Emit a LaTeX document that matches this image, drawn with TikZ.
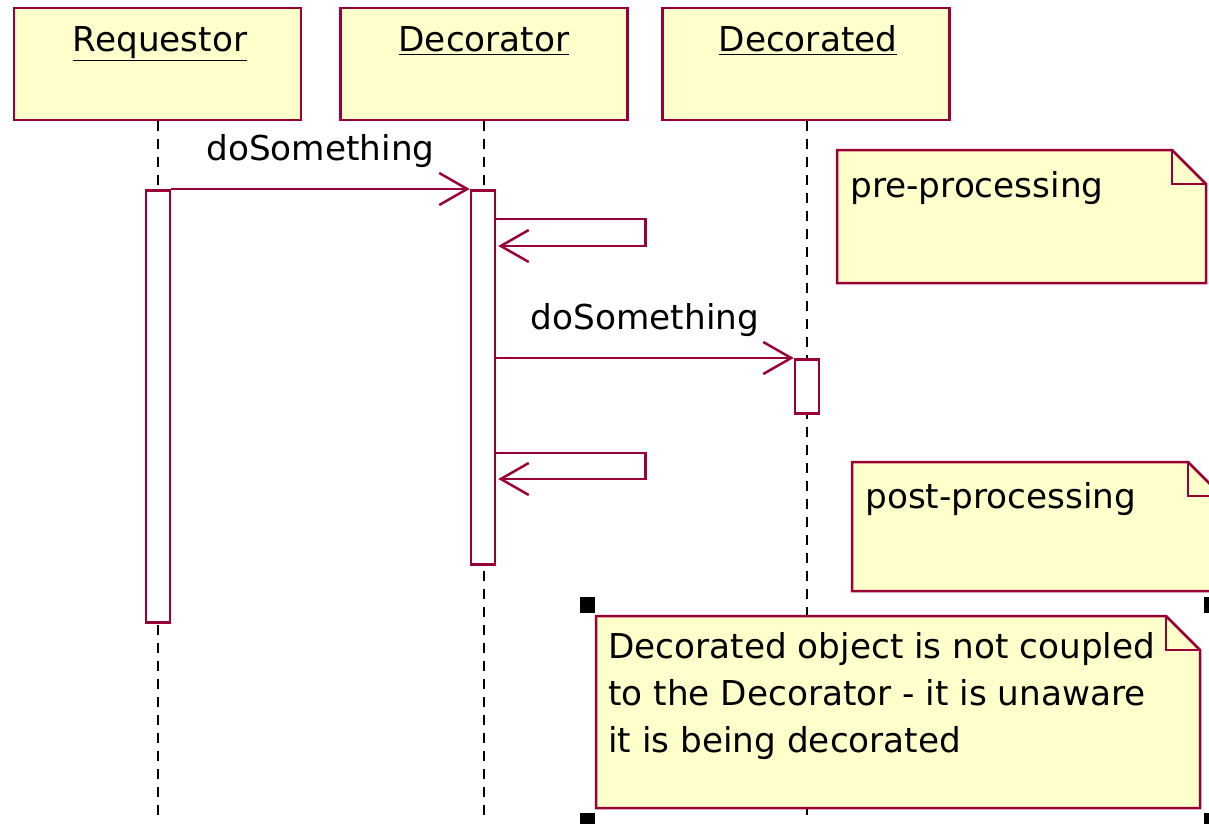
\documentclass[tikz,border=0pt]{standalone}
\usepackage{fontspec}
\setmainfont{DejaVu Sans}
\usetikzlibrary{arrows.meta,positioning}
\definecolor{umlred}{RGB}{153,0,51}
\definecolor{umlnote}{RGB}{255,255,204}
% note with folded corner: left, top, right, bottom
\newcommand{\notebox}[4]{%
  \draw[note] (#1,#2) -- ({#3-34},#2) -- (#3,{#2+34}) -- (#3,#4) -- (#1,#4) -- cycle;
  \draw[note, fill=none] ({#3-34},#2) -- ({#3-34},{#2+34}) -- (#3,{#2+34});}

\begin{document}
\begin{tikzpicture}[
  x=0.2mm, y=-0.2mm,
  every node/.style={font=\fontsize{19.5}{26.9}\selectfont, inner sep=0},
  obj/.style={draw=umlred, fill=umlnote, line width=0.5mm, minimum width=57.4mm, minimum height=22.4mm},
  life/.style={line width=0.45mm, dash pattern=on 2mm off 1.6mm},
  act/.style={draw=umlred, fill=white, line width=0.5mm, minimum width=4.8mm, anchor=north},
  msg/.style={draw=umlred, line width=0.5mm, -{Straight Barb[length=5.6mm, width=6.4mm]}},
  note/.style={draw=umlred, fill=umlnote, line width=0.5mm, line join=miter},
  handle/.style={fill=black}]
\useasboundingbox (0,0) rectangle (1209,823);
\clip (0,0) rectangle (1209,823);

% objects
\node[obj] (req) at (157.5,64) {};
\node[obj] (dec) at (484,64) {};
\node[obj] (decd) at (806,64) {};
\node[anchor=base] (reqname) at (160,51) {\underline{Requestor}};
\node[anchor=base] (decname) at (484,51) {\underline{Decorator}};
\node[anchor=base] (decdname) at (808,51) {\underline{Decorated}};

% lifelines
\coordinate (reqend) at (158,815);
\coordinate (decend) at (484,815);
\coordinate (decdend) at (807,815);
\draw[life] (req.south -| reqend) -- (reqend);
\draw[life] (dec.south -| decend) -- (decend);
\draw[life] (decd.south -| decdend) -- (decdend);

% activations
\node[act, minimum height=86.4mm] (reqact) at (158,189) {};
\node[act, minimum height=74.8mm] (decact) at (483,189) {};
\node[act, minimum height=10.8mm] (decdact) at (807,358) {};

% messages
\draw[msg] (reqact.north east) -- (decact.north west)
  node[midway, anchor=base, yshift=5.8mm] (msga) {doSomething};
\draw[msg] (decact.east |- 0,219) -- ++(149,0) -- ++(0,27) -- ++(-147,0);
\draw[msg] (decact.east |- decdact.north) -- (decdact.north west)
  node[midway, anchor=base, yshift=5.8mm] (msgb) {doSomething};
\draw[msg] (decact.east |- 0,453) -- ++(149,0) -- ++(0,26) -- ++(-147,0);

% notes
\notebox{837}{150}{1206}{283}
\node[anchor=base west] (pre) at (850,197) {pre-processing};
\notebox{852}{462}{1222}{591}
\node[anchor=base west] (post) at (865,508) {post-processing};
\notebox{596}{616}{1200}{808}
\node[anchor=north west, align=left] (remark) at (608,632)
  {Decorated object is not coupled\\to the Decorator - it is unaware\\it is being decorated};

% selection handles
\fill[handle] (580,597) rectangle (595,613);
\fill[handle] (580,813) rectangle (595,828);
\fill[handle] (1204,597) rectangle (1219,613);
\fill[handle] (1204,813) rectangle (1219,828);
\end{tikzpicture}
\end{document}
